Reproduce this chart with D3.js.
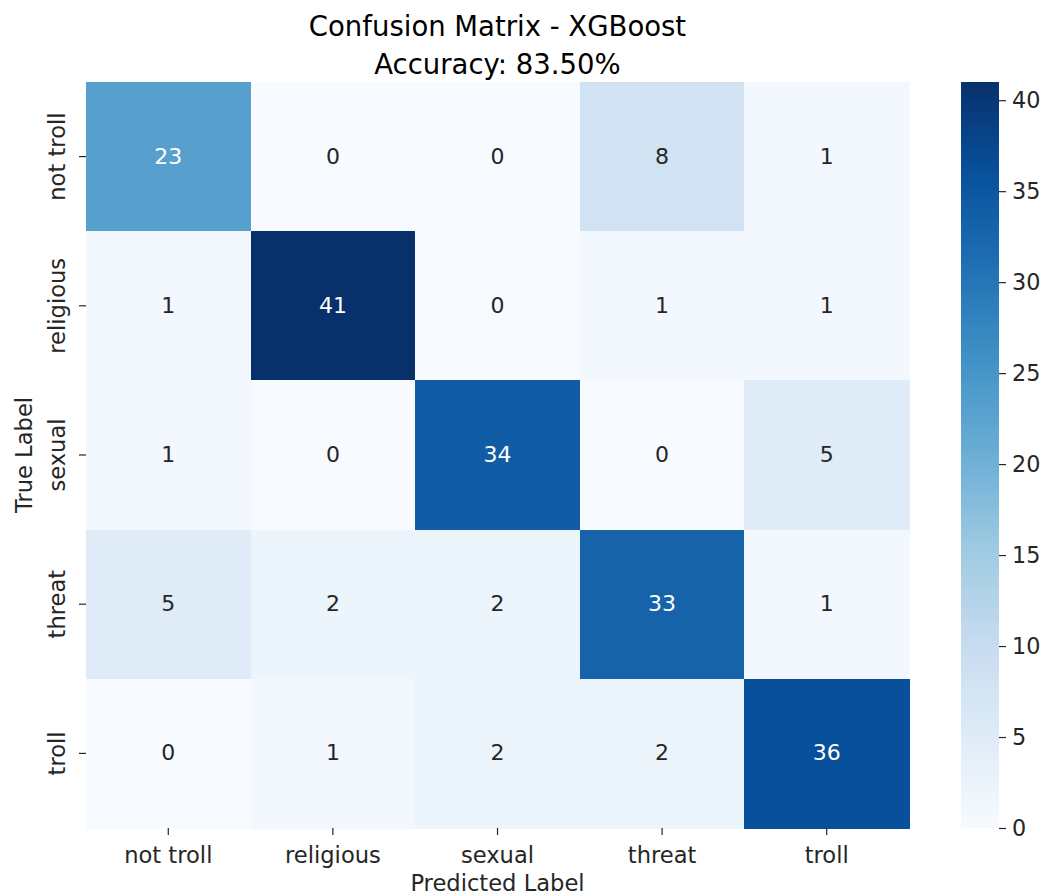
<!DOCTYPE html>
<html>
<head>
<meta charset="utf-8">
<script src="https://cdn.jsdelivr.net/npm/d3@7"></script>
<style>
  html, body { margin: 0; padding: 0; background: #ffffff; }
  svg { display: block; font-family: "DejaVu Sans", sans-serif; }
</style>
</head>
<body>
<svg id="chart" width="1049" height="896"></svg>
<script>
// Class labels (rows = true label, columns = predicted label)
const classes = ["not troll", "religious", "sexual", "threat", "troll"];

// Confusion matrix counts, one array per true class
const rowNotTroll  = [23, 0, 0, 8, 1];
const rowReligious = [1, 41, 0, 1, 1];
const rowSexual    = [1, 0, 34, 0, 5];
const rowThreat    = [5, 2, 2, 33, 1];
const rowTroll     = [0, 1, 2, 2, 36];
const matrix = [rowNotTroll, rowReligious, rowSexual, rowThreat, rowTroll];

const colorbarTicks = [0, 5, 10, 15, 20, 25, 30, 35, 40];
const titleLines = ["Confusion Matrix - XGBoost", "Accuracy: 83.50%"];

const svg = d3.select("#chart");

// Plot area bounds
const plotL = 86, plotR = 909, plotT = 82, plotB = 828;

const x = d3.scaleBand().domain(classes).range([plotL, plotR]).padding(0);
const y = d3.scaleBand().domain(classes).range([plotT, plotB]).padding(0);

// Blues colour map (ColorBrewer 9-class, linearly interpolated)
const blues = ["#f7fbff", "#deebf7", "#c6dbef", "#9ecae1", "#6baed6",
               "#4292c6", "#2171b5", "#08519c", "#08306b"];
const allVals = matrix.flat();
const vmin = d3.min(allVals), vmax = d3.max(allVals);
const color = d3.scaleLinear()
  .domain(blues.map((_, i) => vmin + (vmax - vmin) * i / (blues.length - 1)))
  .range(blues)
  .interpolate(d3.interpolateRgb)
  .clamp(true);

const cells = [];
matrix.forEach((row, i) => row.forEach((v, j) => cells.push({ r: classes[i], c: classes[j], v })));

// Heatmap cells
svg.append("g").selectAll("rect").data(cells).join("rect")
  .attr("x", d => x(d.c))
  .attr("y", d => y(d.r))
  .attr("width", x.bandwidth() + 0.5)
  .attr("height", y.bandwidth() + 0.5)
  .attr("fill", d => color(d.v))
  .attr("shape-rendering", "crispEdges");

// Annotations: light text on dark cells
function luminance(c) {
  const rgb = d3.rgb(c);
  const f = v => { v /= 255; return v <= 0.03928 ? v / 12.92 : Math.pow((v + 0.055) / 1.055, 2.4); };
  return 0.2126 * f(rgb.r) + 0.7152 * f(rgb.g) + 0.0722 * f(rgb.b);
}
svg.append("g").selectAll("text").data(cells).join("text")
  .attr("x", d => x(d.c) + x.bandwidth() / 2)
  .attr("y", d => y(d.r) + y.bandwidth() / 2)
  .attr("dy", "0.32em")
  .attr("text-anchor", "middle")
  .attr("font-size", 22)
  .attr("fill", d => luminance(color(d.v)) > 0.408 ? "#262626" : "#ffffff")
  .text(d => d.v);

// Bottom axis
const xAxis = svg.append("g")
  .attr("transform", `translate(0,${plotB})`)
  .call(d3.axisBottom(x).tickSize(7).tickPadding(5));
xAxis.select(".domain").remove();
xAxis.selectAll(".tick line").attr("stroke", "#262626").attr("stroke-width", 1.2);
xAxis.selectAll(".tick text")
  .attr("font-size", 22.6).attr("fill", "#262626")
  .attr("font-family", "DejaVu Sans, sans-serif")
  .attr("dy", null).attr("y", 35);

// Left axis with rotated labels
const yAxis = svg.append("g")
  .attr("transform", `translate(${plotL},0)`)
  .call(d3.axisLeft(y).tickSize(7).tickPadding(5));
yAxis.select(".domain").remove();
yAxis.selectAll(".tick line").attr("stroke", "#262626").attr("stroke-width", 1.2);
yAxis.selectAll(".tick text")
  .attr("font-size", 22.6).attr("fill", "#262626")
  .attr("font-family", "DejaVu Sans, sans-serif")
  .attr("x", null).attr("dy", null)
  .attr("text-anchor", "middle")
  .attr("transform", "translate(-21,0) rotate(-90)");

// Axis titles
svg.append("text")
  .attr("x", (plotL + plotR) / 2).attr("y", 891)
  .attr("text-anchor", "middle").attr("font-size", 22.6).attr("fill", "#262626")
  .text("Predicted Label");
svg.append("text")
  .attr("transform", `translate(32,${(plotT + plotB) / 2}) rotate(-90)`)
  .attr("text-anchor", "middle").attr("font-size", 22.6).attr("fill", "#262626")
  .text("True Label");

// Title
svg.append("g").selectAll("text").data(titleLines).join("text")
  .attr("x", (plotL + plotR) / 2)
  .attr("y", (d, i) => 36 + i * 38)
  .attr("text-anchor", "middle")
  .attr("font-size", 27.5)
  .attr("fill", "#000000")
  .text(d => d);

// Colour bar
const cbX = 961, cbW = 38;
const cbScale = d3.scaleLinear().domain([vmin, vmax]).range([plotB, plotT]);
const defs = svg.append("defs");
const grad = defs.append("linearGradient")
  .attr("id", "cbGrad").attr("x1", 0).attr("y1", 1).attr("x2", 0).attr("y2", 0);
d3.range(0, 1.0001, 0.02).forEach(t => {
  grad.append("stop").attr("offset", t).attr("stop-color", color(vmin + t * (vmax - vmin)));
});
svg.append("rect")
  .attr("x", cbX).attr("y", plotT)
  .attr("width", cbW).attr("height", plotB - plotT)
  .attr("fill", "url(#cbGrad)");

const cbAxis = svg.append("g")
  .attr("transform", `translate(${cbX + cbW},0)`)
  .call(d3.axisRight(cbScale).tickValues(colorbarTicks).tickSize(7).tickPadding(6));
cbAxis.select(".domain").remove();
cbAxis.selectAll(".tick line").attr("stroke", "#262626").attr("stroke-width", 1.2);
cbAxis.selectAll(".tick text")
  .attr("font-size", 22.3).attr("fill", "#262626")
  .attr("font-family", "DejaVu Sans, sans-serif");
</script>
</body>
</html>
